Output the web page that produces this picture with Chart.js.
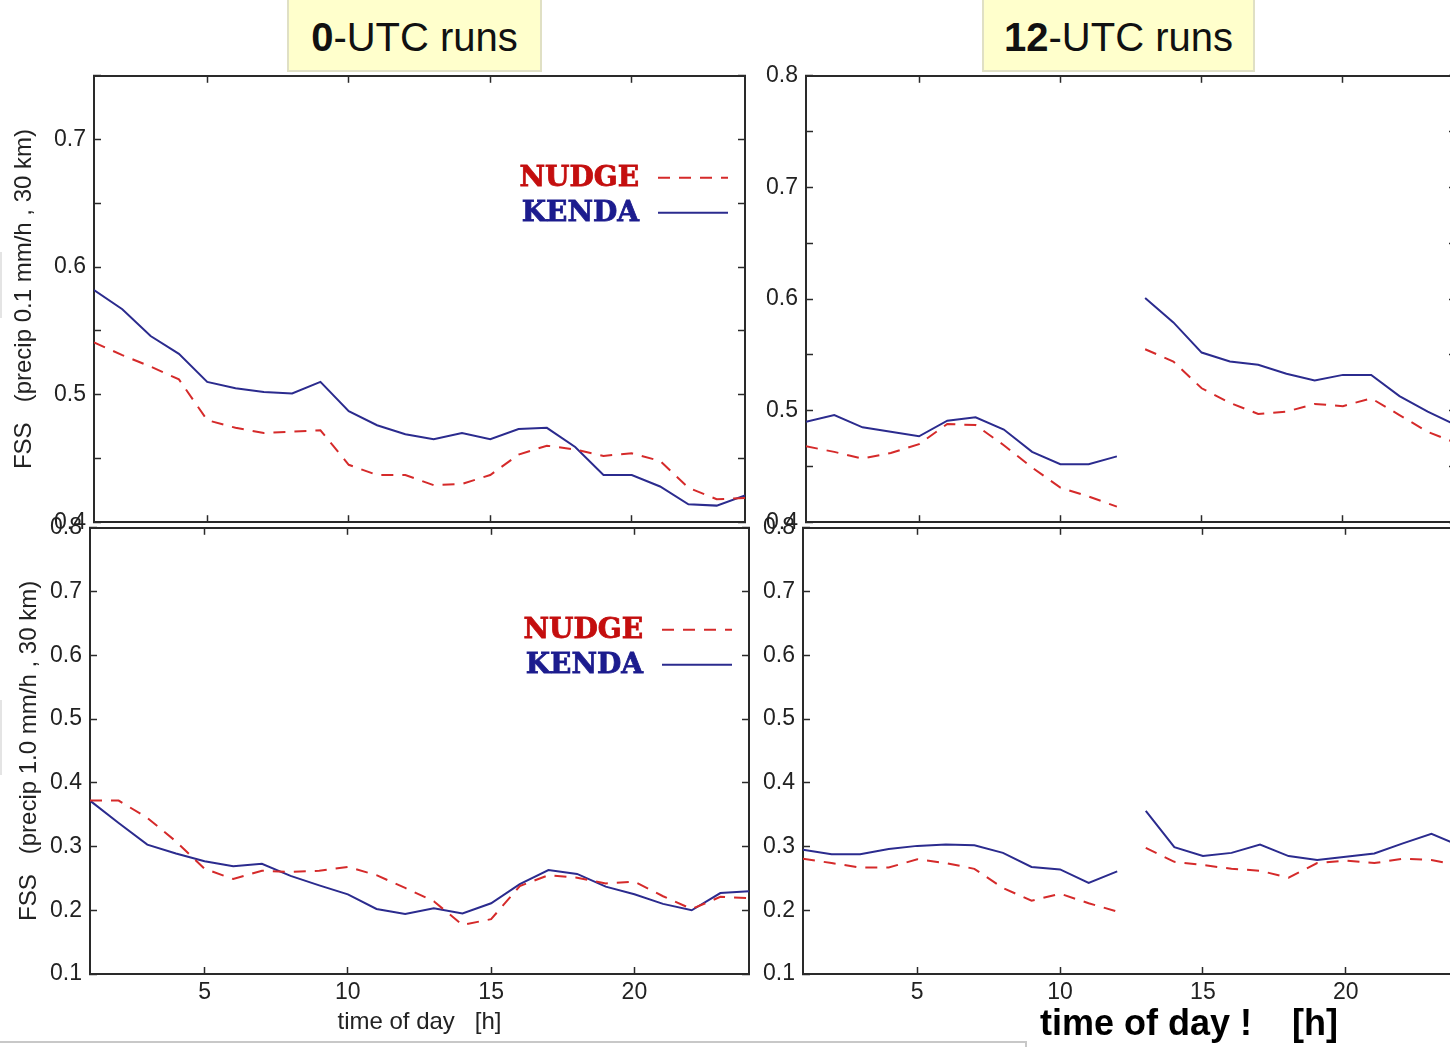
<!DOCTYPE html>
<html>
<head>
<meta charset="utf-8">
<title>FSS NUDGE vs KENDA</title>
<script src="https://cdn.jsdelivr.net/npm/chart.js@4.4.1/dist/chart.umd.min.js"></script>
<style>
  html, body { margin: 0; padding: 0; width: 1450px; height: 1047px; overflow: hidden; background: #fff; }
  canvas { position: absolute; }
  .runbox {
    position: absolute; top: -2px; height: 74px; box-sizing: border-box;
    background: #ffffcc; border: 2px solid #e0e0c4;
    font-family: "Liberation Sans", Arial, sans-serif; font-size: 40px; color: #111;
    text-align: center; line-height: 75px; white-space: nowrap;
  }
  .edge { position: absolute; left: 0; width: 2px; background: #e4e4e4; }
</style>
</head>
<body>

<div class="runbox" style="left:287px; width:255px;"><b>0</b>-UTC runs</div>
<div class="runbox" style="left:982px; width:273px;"><b>12</b>-UTC runs</div>

<canvas id="c0p01"></canvas>
<canvas id="c12p01"></canvas>
<canvas id="c0p10"></canvas>
<canvas id="c12p10"></canvas>

<div class="edge" style="top:252px; height:66px;"></div>
<div class="edge" style="top:700px; height:75px;"></div>
<div style="position:absolute; left:-2px; top:1041px; width:1029px; height:20px; border:2px solid #c8c8c8; box-sizing:border-box;"></div>
<div style="position:absolute; left:1040px; top:1002px; line-height:44px; font:bold 36px 'Liberation Sans', Arial, sans-serif; color:#000; white-space:pre;">time of day !    [h]</div>

<script>
document.addEventListener('DOMContentLoaded', function () {

    // time of day [h]
    const hours = [1, 2, 3, 4, 5, 6, 7, 8, 9, 10, 11, 12, 13, 14, 15, 16, 17, 18, 19, 20, 21, 22, 23, 24];
    const xTicks = [5, 10, 15, 20];

    // y ticks (labels only on the 0.1 steps)
    const yTicks0p01 = [0.4, 0.45, 0.5, 0.55, 0.6, 0.65, 0.7, 0.75];
    const yTicks12p01 = [0.4, 0.45, 0.5, 0.55, 0.6, 0.65, 0.7, 0.75, 0.8];
    const yTicksP10 = [0.1, 0.2, 0.3, 0.4, 0.5, 0.6, 0.7, 0.8];

    // FSS, precip 0.1 mm/h, 30 km
    const nudge0p01 = [0.541, 0.531, 0.522, 0.512, 0.480, 0.474, 0.470, 0.471, 0.472, 0.445, 0.437, 0.437,
                       0.429, 0.430, 0.437, 0.453, 0.460, 0.457, 0.452, 0.454, 0.448, 0.427, 0.418, 0.419];
    const kenda0p01 = [0.582, 0.567, 0.546, 0.532, 0.510, 0.505, 0.502, 0.501, 0.510, 0.487, 0.476, 0.469,
                       0.465, 0.470, 0.465, 0.473, 0.474, 0.459, 0.437, 0.437, 0.428, 0.414, 0.413, 0.421];
    const nudge12p01 = [0.468, 0.463, 0.457, 0.462, 0.470, 0.488, 0.487, 0.469, 0.449, 0.431, 0.423, 0.414,
                        0.555, 0.544, 0.520, 0.507, 0.497, 0.499, 0.506, 0.504, 0.511, 0.496, 0.481, 0.471];
    const kenda12p01 = [0.490, 0.496, 0.485, 0.481, 0.477, 0.491, 0.494, 0.483, 0.463, 0.452, 0.452, 0.459,
                        0.601, 0.579, 0.552, 0.544, 0.541, 0.533, 0.527, 0.532, 0.532, 0.513, 0.499, 0.487];

    // FSS, precip 1.0 mm/h, 30 km
    const nudge0p10 = [0.372, 0.372, 0.345, 0.308, 0.265, 0.249, 0.262, 0.260, 0.262, 0.268, 0.255, 0.235,
                       0.214, 0.177, 0.186, 0.238, 0.255, 0.251, 0.242, 0.245, 0.222, 0.202, 0.221, 0.219];
    const kenda0p10 = [0.372, 0.337, 0.303, 0.289, 0.277, 0.269, 0.273, 0.254, 0.239, 0.225, 0.202, 0.194,
                       0.203, 0.195, 0.211, 0.241, 0.263, 0.257, 0.237, 0.225, 0.210, 0.200, 0.227, 0.230];
    const nudge12p10 = [0.281, 0.274, 0.267, 0.267, 0.280, 0.274, 0.265, 0.235, 0.215, 0.226, 0.211, 0.198,
                        0.298, 0.276, 0.271, 0.265, 0.262, 0.251, 0.274, 0.278, 0.274, 0.281, 0.279, 0.270];
    const kenda12p10 = [0.295, 0.288, 0.288, 0.296, 0.301, 0.303, 0.302, 0.290, 0.268, 0.264, 0.243, 0.261,
                        0.356, 0.299, 0.285, 0.290, 0.303, 0.285, 0.279, 0.284, 0.289, 0.305, 0.320, 0.301];

    // 12-UTC runs: first run ends at 12 h, next run starts at 13 h
    const runBreak = 12;

    const RED = '#d52a2a';
    const BLUE = '#2b2b8e';
    const AXIS = '#2a2a2a';
    const FONT = '"Liberation Sans", Arial, sans-serif';

    // legend drawn inside the plot area (label left of the line)
    const insideLegend = {
        id: 'insideLegend',
        afterDatasetsDraw(chart, args, opts) {
            if (!opts.show) return;
            const ctx = chart.ctx;
            const area = chart.chartArea;
            ctx.save();
            chart.data.datasets.forEach(function (ds, i) {
                const y = area.top + 102 + i * 35;
                ctx.font = 'bold 28px "DejaVu Serif", serif';
                ctx.fillStyle = ds.legendTextColor;
                ctx.strokeStyle = ds.legendTextColor;
                ctx.lineWidth = 0.8;
                ctx.setLineDash([]);
                ctx.textAlign = 'right';
                ctx.textBaseline = 'middle';
                ctx.fillText(ds.label, area.right - 106, y + 1);
                ctx.strokeText(ds.label, area.right - 106, y + 1);
                ctx.strokeStyle = ds.borderColor;
                ctx.lineWidth = ds.borderWidth;
                ctx.setLineDash(ds.borderDash || []);
                ctx.beginPath();
                ctx.moveTo(area.right - 87, y);
                ctx.lineTo(area.right - 17, y);
                ctx.stroke();
            });
            ctx.restore();
        }
    };

    function points(values) {
        return hours.map(function (h, i) { return { x: h, y: values[i] }; });
    }

    function gapSegment(color, brk) {
        return {
            borderColor: function (ctx) {
                return (brk && ctx.p0.parsed.x === brk) ? 'rgba(0,0,0,0)' : color;
            }
        };
    }

    function setTicks(list) {
        return function (scale) { scale.ticks = list.map(function (v) { return { value: v }; }); };
    }

    const gridStyle = { drawOnChartArea: false, drawTicks: true, tickLength: -7, tickColor: AXIS, tickWidth: 1.5 };
    const borderStyle = { display: true, color: AXIS, width: 2 };

    function panel(id, box, cfg) {
        const canvas = document.getElementById(id);
        canvas.width = box.w;
        canvas.height = box.h;
        canvas.style.left = box.left + 'px';
        canvas.style.top = box.top + 'px';

        new Chart(canvas.getContext('2d'), {
            type: 'line',
            data: {
                datasets: [
                    {
                        label: 'NUDGE',
                        data: points(cfg.nudge),
                        borderColor: RED,
                        borderWidth: 2,
                        borderDash: [12, 9],
                        pointRadius: 0,
                        legendTextColor: '#c40e0e',
                        segment: gapSegment(RED, cfg.gap)
                    },
                    {
                        label: 'KENDA',
                        data: points(cfg.kenda),
                        borderColor: BLUE,
                        borderWidth: 2,
                        pointRadius: 0,
                        legendTextColor: '#1c1c8e',
                        segment: gapSegment(BLUE, cfg.gap)
                    }
                ]
            },
            options: {
                responsive: false,
                animation: false,
                events: [],
                layout: { autoPadding: false, padding: { top: 15, right: box.pr, bottom: 0, left: 0 } },
                plugins: {
                    legend: { display: false },
                    tooltip: { enabled: false },
                    insideLegend: { show: cfg.legend }
                },
                scales: {
                    x: {
                        type: 'linear', position: 'bottom', min: 1, max: 24,
                        afterBuildTicks: setTicks(xTicks),
                        afterFit: function (s) { s.height = box.hx; },
                        grid: gridStyle, border: borderStyle,
                        ticks: { display: cfg.xLabels, padding: 12, color: '#222', font: { family: FONT, size: 23 }, maxRotation: 0, autoSkip: false },
                        title: {
                            display: !!cfg.xTitle, text: cfg.xTitle || '', color: '#222',
                            font: { family: FONT, size: 24 }, padding: { top: 0, bottom: 10 }
                        }
                    },
                    x2: {
                        type: 'linear', position: 'top', min: 1, max: 24,
                        afterBuildTicks: setTicks(xTicks),
                        afterFit: function (s) { s.height = 0; },
                        grid: gridStyle, border: borderStyle,
                        ticks: { display: false }
                    },
                    y: {
                        type: 'linear', position: 'left', min: cfg.yMin, max: cfg.yMax,
                        afterBuildTicks: setTicks(cfg.yTicks),
                        afterFit: function (s) { s.width = box.wy; },
                        grid: gridStyle, border: borderStyle,
                        ticks: {
                            padding: 15, color: '#222', font: { family: FONT, size: 23 }, autoSkip: false,
                            callback: function (v) {
                                return Math.abs(v * 10 - Math.round(v * 10)) < 1e-6 ? v.toFixed(1) : '';
                            }
                        },
                        title: {
                            display: !!cfg.yTitle, text: cfg.yTitle || '', color: '#222',
                            font: { family: FONT, size: 24 }, padding: { top: cfg.yTitlePad || 0, bottom: 0 }
                        }
                    },
                    y2: {
                        type: 'linear', position: 'right', min: cfg.yMin, max: cfg.yMax,
                        afterBuildTicks: setTicks(cfg.yTicks),
                        afterFit: function (s) { s.width = 0; },
                        grid: gridStyle, border: borderStyle,
                        ticks: { display: false }
                    }
                }
            },
            plugins: [insideLegend]
        });
    }

    // ===============================
    // top row: precip 0.1 mm/h
    // ===============================
    panel('c0p01', { left: 0, top: 47, w: 750, h: 504, wy: 94, hx: 20, pr: 5 }, {
        nudge: nudge0p01, kenda: kenda0p01, yMin: 0.4, yMax: 0.75, yTicks: yTicks0p01,
        legend: true, xLabels: false,
        yTitle: 'FSS   (precip 0.1 mm/h , 30 km)', yTitlePad: 10
    });

    panel('c12p01', { left: 736, top: 47, w: 720, h: 504, wy: 70, hx: 20, pr: 0 }, {
        nudge: nudge12p01, kenda: kenda12p01, yMin: 0.4, yMax: 0.8, yTicks: yTicks12p01,
        legend: false, xLabels: false, gap: runBreak
    });

    // ===============================
    // bottom row: precip 1.0 mm/h
    // ===============================
    panel('c0p10', { left: 0, top: 499, w: 754, h: 548, wy: 90, hx: 73, pr: 5 }, {
        nudge: nudge0p10, kenda: kenda0p10, yMin: 0.1, yMax: 0.8, yTicks: yTicksP10,
        legend: true, xLabels: true,
        yTitle: 'FSS   (precip 1.0 mm/h , 30 km)', yTitlePad: 15,
        xTitle: 'time of day   [h]'
    });

    panel('c12p10', { left: 733, top: 499, w: 727, h: 515, wy: 70, hx: 40, pr: 0 }, {
        nudge: nudge12p10, kenda: kenda12p10, yMin: 0.1, yMax: 0.8, yTicks: yTicksP10,
        legend: false, xLabels: true, gap: runBreak
    });

});
</script>
</body>
</html>
